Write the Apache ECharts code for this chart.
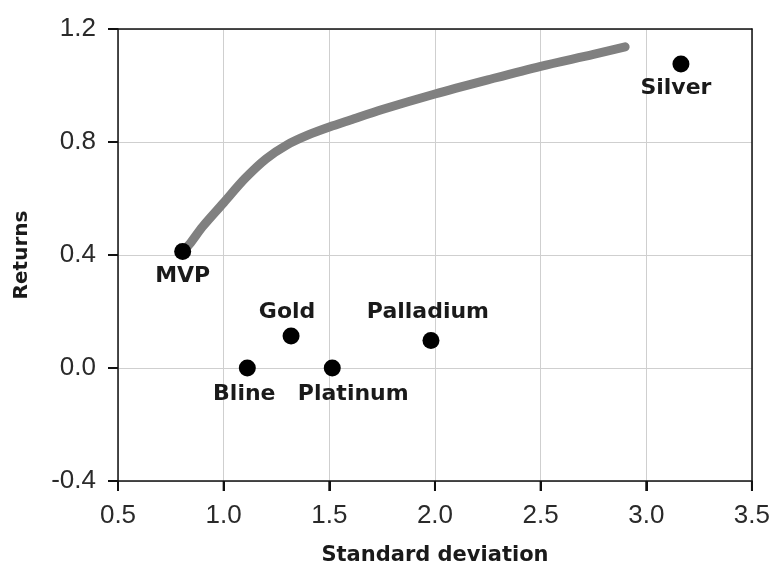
<!DOCTYPE html>
<html>
<head>
<meta charset="utf-8">
<script src="https://cdn.jsdelivr.net/npm/echarts@6/dist/echarts.min.js"></script>
<style>html,body{margin:0;padding:0;background:#fff}#c{width:773px;height:573px}</style>
</head>
<body>
<div id="c"></div>
<script>
// Efficient frontier curve (standard deviation, return)
const frontierSD  = [0.806, 0.84, 0.90, 1.00, 1.10, 1.20, 1.30, 1.40, 1.50, 1.60, 1.75, 2.00, 2.25, 2.50, 2.75, 2.90];
const frontierRet = [0.412, 0.44, 0.50, 0.585, 0.67, 0.74, 0.79, 0.825, 0.853, 0.878, 0.915, 0.970, 1.020, 1.068, 1.110, 1.137];
// Assets
const assetNames = ['MVP', 'Gold', 'Bline', 'Platinum', 'Palladium', 'Silver'];
const assetSD    = [0.806, 1.319, 1.112, 1.514, 1.981, 3.164];
const assetRet   = [0.412, 0.113, 0.000, 0.000, 0.097, 1.076];
// Tick labels
const xTicks = [0.5, 1.0, 1.5, 2.0, 2.5, 3.0, 3.5];
const yTicks = [-0.4, 0.0, 0.4, 0.8, 1.2];

const labelLayout = {
  MVP:       {position: 'bottom', distance: 5,  offset: [0, 0]},
  Gold:      {position: 'top',    distance: 4,  offset: [-4, 0]},
  Bline:     {position: 'bottom', distance: 7,  offset: [-3, 0]},
  Platinum:  {position: 'bottom', distance: 7,  offset: [21, 0]},
  Palladium: {position: 'top',    distance: 9,  offset: [-3, 0]},
  Silver:    {position: 'bottom', distance: 5,  offset: [-5, 0]}
};

const labelFont = {fontFamily: 'DejaVu Sans', fontWeight: 'bold', fontSize: 22, color: '#1a1a1a'};
function frameAxis(type, position, ticks, interval) {
  return {
    type: type, position: position, min: ticks[0], max: ticks[ticks.length - 1], interval: interval,
    axisLine: {show: true, onZero: false, lineStyle: {color: '#111', width: 1.5}},
    axisTick: {show: false}, axisLabel: {show: false}, splitLine: {show: false}
  };
}

const chart = echarts.init(document.getElementById('c'), null, {renderer: 'canvas'});
chart.setOption({
  animation: false,
  grid: {left: 118, right: 21, top: 29, bottom: 92},
  xAxis: [{
    type: 'value', position: 'bottom', min: xTicks[0], max: xTicks[xTicks.length - 1], interval: 0.5,
    name: 'Standard deviation', nameLocation: 'middle', nameGap: 64,
    nameTextStyle: {fontFamily: 'DejaVu Sans', fontWeight: 'bold', fontSize: 21, color: '#1a1a1a'},
    axisLine: {show: true, onZero: false, lineStyle: {color: '#111', width: 1.5}},
    axisTick: {show: true, inside: false, length: 10, lineStyle: {color: '#111', width: 2}},
    axisLabel: {margin: 22, fontFamily: 'Liberation Sans', fontSize: 26, color: '#2a2a2a', formatter: v => v.toFixed(1)},
    splitLine: {show: true, lineStyle: {color: '#cfcfcf', width: 1}}
  }, frameAxis('value', 'top', xTicks, 0.5)],
  yAxis: [{
    type: 'value', position: 'left', min: yTicks[0], max: yTicks[yTicks.length - 1], interval: 0.4,
    name: 'Returns', nameLocation: 'middle', nameGap: 86,
    nameTextStyle: {fontFamily: 'DejaVu Sans', fontWeight: 'bold', fontSize: 20, color: '#1a1a1a'},
    axisLine: {show: true, onZero: false, lineStyle: {color: '#111', width: 1.5}},
    axisTick: {show: true, inside: false, length: 10, lineStyle: {color: '#111', width: 2}},
    axisLabel: {margin: 22, fontFamily: 'Liberation Sans', fontSize: 26, color: '#2a2a2a', formatter: v => v.toFixed(1)},
    splitLine: {show: true, lineStyle: {color: '#cfcfcf', width: 1}}
  }, frameAxis('value', 'right', yTicks, 0.4)],
  series: [
    {
      type: 'line', smooth: 0.3, showSymbol: false, symbol: 'none', z: 2,
      data: frontierSD.map((x, i) => [x, frontierRet[i]]),
      lineStyle: {color: '#808080', width: 9, cap: 'round', join: 'round'}
    },
    {
      type: 'scatter', symbol: 'circle', symbolSize: 17, z: 3,
      itemStyle: {color: '#000', opacity: 1},
      data: assetNames.map((n, i) => ({
        name: n, value: [assetSD[i], assetRet[i]],
        label: Object.assign({show: true, formatter: n}, labelFont, labelLayout[n])
      }))
    }
  ]
});

// Outside tick marks, positioned through the chart's own axis scales
try {
  const tickLen = 10;
  const yBase = chart.convertToPixel({yAxisIndex: 0}, yTicks[0]);
  const xBase = chart.convertToPixel({xAxisIndex: 0}, xTicks[0]);
  const els = [];
  xTicks.forEach(v => {
    const px = chart.convertToPixel({xAxisIndex: 0}, v);
    els.push({type: 'line', silent: true, z: 10, shape: {x1: px, y1: yBase, x2: px, y2: yBase + tickLen}, style: {stroke: '#111', lineWidth: 2}});
  });
  yTicks.forEach(v => {
    const py = chart.convertToPixel({yAxisIndex: 0}, v);
    els.push({type: 'line', silent: true, z: 10, shape: {x1: xBase - tickLen, y1: py, x2: xBase, y2: py}, style: {stroke: '#111', lineWidth: 2}});
  });
  if (isFinite(yBase) && isFinite(xBase)) chart.setOption({graphic: {elements: els}});
} catch (e) {}
</script>
</body>
</html>
